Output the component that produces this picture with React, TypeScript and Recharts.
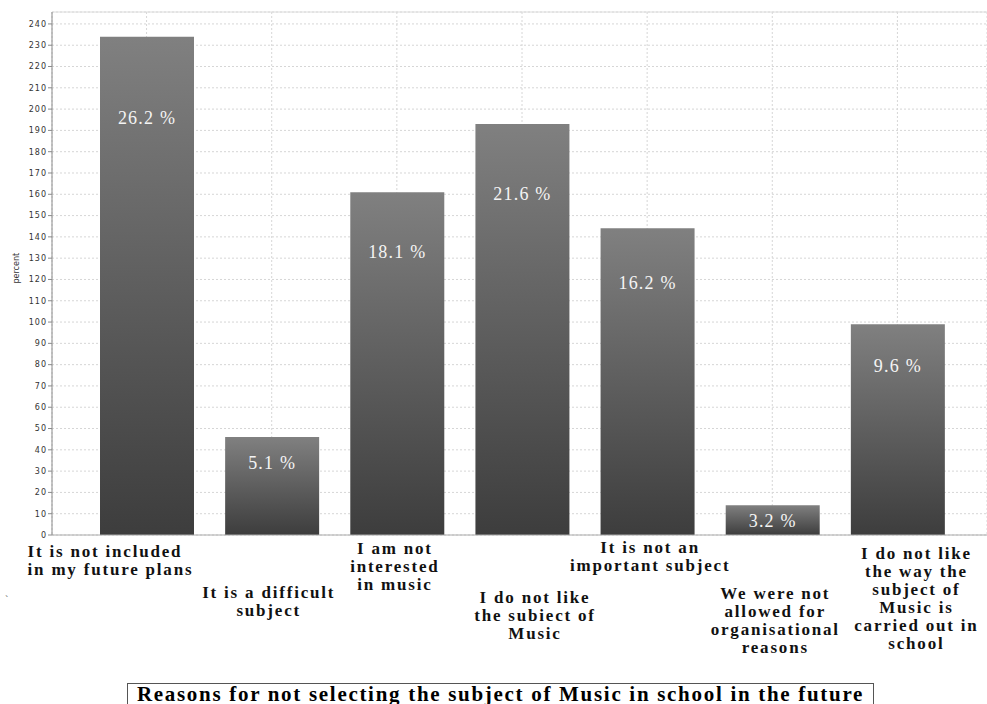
import React from 'react';
import { BarChart, Bar, XAxis, YAxis, CartesianGrid, LabelList, ReferenceLine } from 'recharts';

// values (y axis is labelled "percent" but carries counts)
const categories = [
  'It is not included in my future plans',
  'It is a difficult subject',
  'I am not interested in music',
  'I do not like the subiect of Music',
  'It is not an important subject',
  'We were not allowed for organisational reasons',
  'I do not like the way the subject of Music is carried out in school',
];
const categoryLines = [
  ['It is not included', 'in my future plans'],
  ['It is a difficult', 'subject'],
  ['I am not', 'interested', 'in music'],
  ['I do not like', 'the subiect of', 'Music'],
  ['It is not an', 'important subject'],
  ['We were not', 'allowed for', 'organisational', 'reasons'],
  ['I do not like', 'the way the', 'subject of', 'Music is', 'carried out in', 'school'],
];
const counts = [234, 46, 161, 193, 144, 14, 99];
const percentLabels = ['26.2 %', '5.1 %', '18.1 %', '21.6 %', '16.2 %', '3.2 %', '9.6 %'];
const yTicks = [0, 10, 20, 30, 40, 50, 60, 70, 80, 90, 100, 110, 120, 130, 140, 150, 160, 170, 180, 190, 200, 210, 220, 230, 240];

const Y_MAX = 245.6;

// staggered tick label placement (dx from category centre, dy of first line, anchor)
const tickLayout = [
  { dx: -119, dy: 20, anchor: 'start' },
  { dx: -3, dy: 61, anchor: 'middle' },
  { dx: -2, dy: 17, anchor: 'middle' },
  { dx: 13, dy: 66, anchor: 'middle' },
  { dx: 3, dy: 16, anchor: 'middle' },
  { dx: 3, dy: 62, anchor: 'middle' },
  { dx: 19, dy: 22, anchor: 'middle' },
];

const data = categories.map((name, i) => ({
  name,
  count: counts[i],
  label: percentLabels[i],
}));

const serif = '"Liberation Serif", "Times New Roman", serif';

const CategoryTick = (props: any) => {
  const { x, y, payload } = props;
  const i = payload.index;
  const lay = tickLayout[i];
  const lines = categoryLines[i];
  return (
    <text
      x={x + lay.dx}
      y={y + lay.dy}
      textAnchor={lay.anchor}
      fontFamily={serif}
      fontWeight="bold"
      fontSize={17}
      fill="#111"
      letterSpacing={1.8}
    >
      {lines.map((line, k) => (
        <tspan key={k} x={x + lay.dx} dy={k === 0 ? 0 : 18}>
          {line}
        </tspan>
      ))}
    </text>
  );
};

const BarText = (props: any) => {
  const { x, y, width, height, value } = props;
  const off = 12 + 0.14 * height;
  return (
    <text
      x={x + width / 2}
      y={y + off + 6}
      textAnchor="middle"
      fontFamily={serif}
      fontSize={18}
      fill="#f4f4f4"
      letterSpacing={1.2}
    >
      {value}
    </text>
  );
};

export default function App() {
  return (
    <div style={{ position: 'absolute', left: 0, top: 0, width: 987, height: 704, overflow: 'hidden', background: '#fff' }}>
      <BarChart
        width={987}
        height={704}
        data={data}
        margin={{ top: 12, right: 0, left: 0, bottom: 0 }}
      >
        <defs>
          <linearGradient id="barFill" x1="0" y1="0" x2="0" y2="1">
            <stop offset="0%" stopColor="#808080" />
            <stop offset="100%" stopColor="#3d3d3d" />
          </linearGradient>
        </defs>
        <CartesianGrid stroke="#d6d6d6" strokeDasharray="2 2" />
        <ReferenceLine y={Y_MAX} stroke="#dcdcdc" ifOverflow="extendDomain" />
        <XAxis
          dataKey="name"
          interval={0}
          tick={<CategoryTick />}
          tickLine={false}
          tickSize={0}
          height={169}
          padding={{ left: 32, right: 27 }}
          axisLine={{ stroke: '#aaaaaa' }}
        />
        <YAxis
          width={52}
          domain={[0, Y_MAX]}
          ticks={yTicks}
          interval={0}
          tickSize={4}
          tickMargin={1}
          axisLine={{ stroke: '#8a8a8a' }}
          tickLine={{ stroke: '#8a8a8a' }}
          tick={{ fontSize: 8, fill: '#333', fontFamily: '"DejaVu Sans", sans-serif', letterSpacing: 1 }}
          label={{ value: 'percent', angle: -90, position: 'insideLeft', offset: 16, dy: 10, style: { fontSize: 8, fill: '#333', fontFamily: '"DejaVu Sans", sans-serif' } }}
        />
        <Bar dataKey="count" fill="url(#barFill)" barSize={94} isAnimationActive={false}>
          <LabelList dataKey="label" content={<BarText />} />
        </Bar>
      </BarChart>
      <div style={{ position: 'absolute', left: 5, top: 594, fontSize: 10, color: '#555', fontFamily: serif }}>`</div>
      <div
        style={{
          position: 'absolute',
          left: 127,
          top: 683,
          width: 747,
          height: 30,
          border: '1px solid #555',
          boxSizing: 'border-box',
          textAlign: 'center',
          fontFamily: serif,
          fontWeight: 'bold',
          fontSize: 21,
          lineHeight: '20px',
          paddingTop: 0,
          letterSpacing: 1.7,
          color: '#000',
          whiteSpace: 'nowrap',
        }}
      >
        Reasons for not selecting the subject of Music in school in the future
      </div>
    </div>
  );
}
